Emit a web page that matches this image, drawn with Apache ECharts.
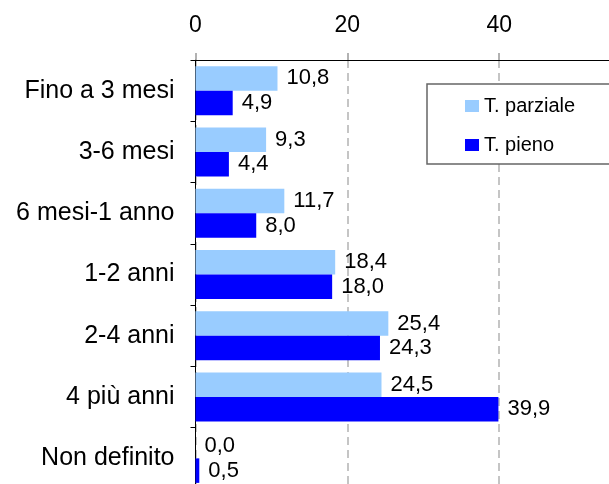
<!DOCTYPE html>
<html>
<head>
<meta charset="utf-8">
<script src="https://cdn.jsdelivr.net/npm/echarts@6/dist/echarts.min.js"></script>
<style>
  html, body { margin: 0; padding: 0; background: #fff; overflow: hidden; }
  /* il grafico originale è tagliato a destra e in basso */
  #main { width: 651px; height: 489px; }
</style>
</head>
<body>
<div id="main"></div>
<script>
// dati
var categorie = ['Fino a 3 mesi', '3-6 mesi', '6 mesi-1 anno', '1-2 anni', '2-4 anni', '4 più anni', 'Non definito'];
var parziale = [10.8, 9.3, 11.7, 18.4, 25.4, 24.5, 0.0];
var pieno = [4.9, 4.4, 8.0, 18.0, 24.3, 39.9, 0.5];
var nomiSerie = ['T. parziale', 'T. pieno'];

var font = "'Liberation Sans', Arial, sans-serif";

function fmt(p) {
    return p.value.toFixed(1).replace('.', ',');
}

var myChart = echarts.init(document.getElementById('main'));
var option = {
    animation: false,
    textStyle: { fontFamily: font },
    grid: {
        left: 195.5,
        top: 60,
        right: 0,
        bottom: 0,
        outerBoundsMode: 'none',
        containLabel: false
    },
    legend: {
        orient: 'vertical',
        left: 427,
        top: 84,
        data: nomiSerie,
        icon: 'rect',
        itemWidth: 14,
        itemHeight: 12,
        itemGap: 19,
        padding: [12, 60, 9, 38],
        borderColor: '#666',
        borderWidth: 1.5,
        backgroundColor: '#fff',
        textStyle: { fontFamily: font, fontSize: 20, color: '#000', lineHeight: 20 }
    },
    xAxis: {
        type: 'value',
        position: 'top',
        min: 0,
        max: 60,
        interval: 20,
        axisLine: { show: true, lineStyle: { color: '#000', width: 1 } },
        axisTick: { show: true, length: 7, lineStyle: { color: '#999', width: 1.5 } },
        axisLabel: { fontFamily: font, fontSize: 23, color: '#000', margin: 23 },
        splitLine: { show: true, lineStyle: { color: '#b3b3b3', width: 1.5, type: [8, 5] } }
    },
    yAxis: {
        type: 'category',
        inverse: true,
        data: categorie,
        axisLine: { show: true, lineStyle: { color: '#000', width: 1 } },
        axisTick: { show: true, length: 5, lineStyle: { color: '#000' } },
        axisLabel: { fontFamily: font, fontSize: 25, color: '#000', margin: 21 },
        splitLine: { show: false }
    },
    series: [
        {
            name: nomiSerie[0],
            type: 'bar',
            data: parziale,
            barGap: '0%',
            barCategoryGap: '20%',
            itemStyle: { color: '#99ccff' },
            label: { show: true, position: 'right', distance: 9, formatter: fmt,
                fontFamily: font, fontSize: 22, color: '#000' }
        },
        {
            name: nomiSerie[1],
            type: 'bar',
            data: pieno,
            barGap: '0%',
            barCategoryGap: '20%',
            itemStyle: { color: '#0000ff' },
            label: { show: true, position: 'right', distance: 9, formatter: fmt,
                fontFamily: font, fontSize: 22, color: '#000' }
        }
    ]
};
myChart.setOption(option);
</script>
</body>
</html>
